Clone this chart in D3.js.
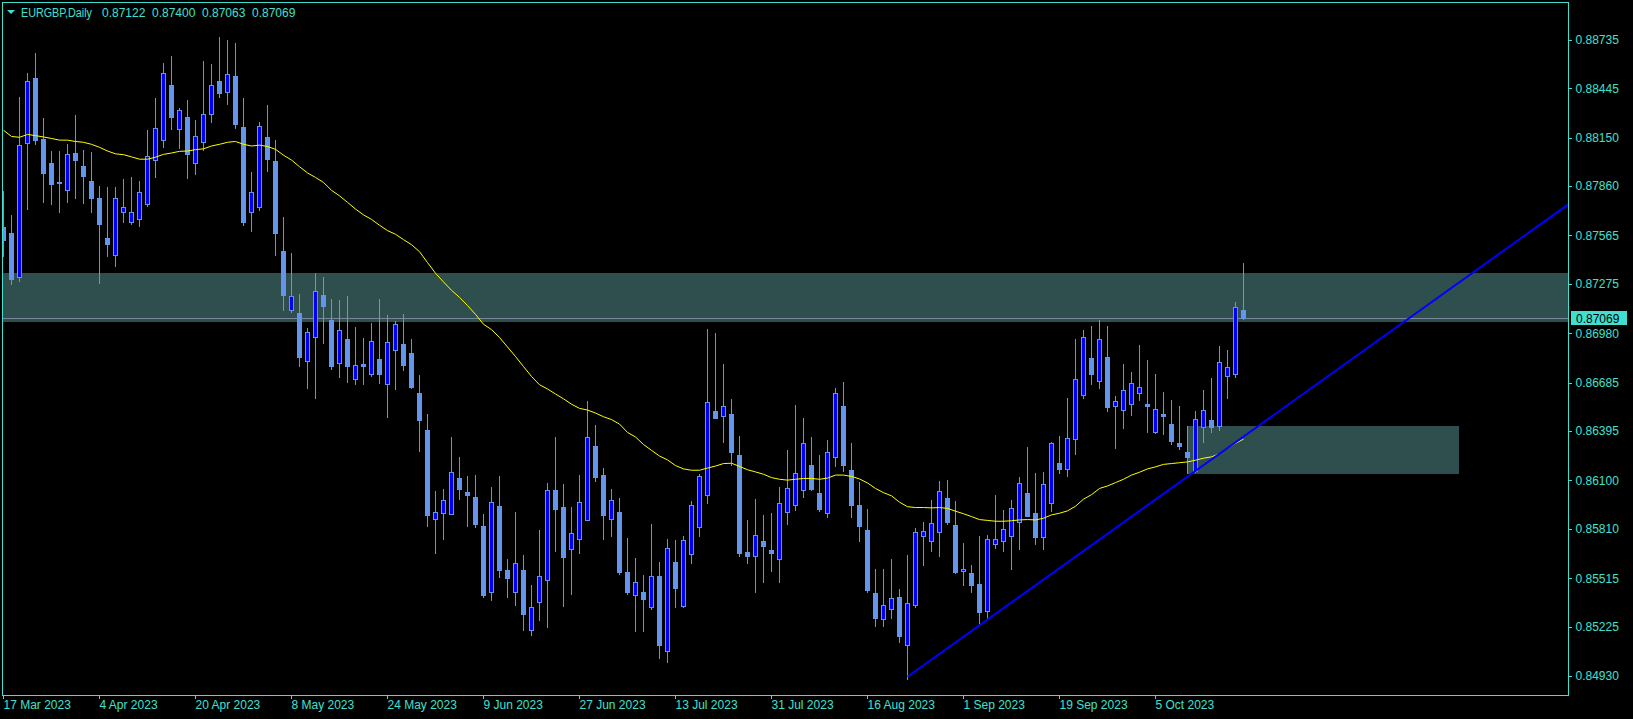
<!DOCTYPE html>
<html><head><meta charset="utf-8">
<script src="https://cdn.jsdelivr.net/npm/d3@7"></script>
<style>html,body{margin:0;padding:0;background:#000;overflow:hidden}svg{display:block}</style>
</head><body>
<svg id="chart" width="1633" height="719"></svg>
<script>
// ---- data (daily bars, index 0 = 17 Mar 2023) ----
const openP = [0.87617,0.87579,0.87314,0.88117,0.88506,0.88142,0.87998,0.87884,0.87835,0.88058,
0.87981,0.87892,0.87790,0.87550,0.87450,0.87708,0.87646,0.87666,0.87755,0.88018,
0.88137,0.88464,0.88204,0.88273,0.88001,0.88125,0.88293,0.88489,0.88420,0.88519,
0.88214,0.87708,0.87736,0.88154,0.88011,0.87473,0.87121,0.87101,0.86816,0.86955,
0.87210,0.87059,0.86803,0.86947,0.86709,0.86796,0.86736,0.86826,0.86677,0.86883,
0.86917,0.86863,0.86622,0.86402,0.85871,0.85904,0.85901,0.86114,0.86032,0.86000,
0.85827,0.85430,0.85948,0.85564,0.85430,0.85564,0.85204,0.85371,0.85507,0.86042,
0.85941,0.85693,0.85747,0.85866,0.86305,0.86134,0.85871,0.85911,0.85554,0.85415,
0.85433,0.85341,0.85527,0.85083,0.85613,0.85351,0.85663,0.85824,0.86010,0.86516,
0.86484,0.86498,0.86253,0.85673,0.85646,0.85737,0.85685,0.85633,0.85913,0.85953,
0.86045,0.86191,0.86025,0.85908,0.86241,0.86546,0.86161,0.85953,0.85804,0.85428,
0.85269,0.85333,0.85403,0.85113,0.85356,0.85765,0.85735,0.85790,0.85993,0.85834,
0.85556,0.85544,0.85482,0.85321,0.85718,0.85735,0.85765,0.85854,0.86025,0.85906,
0.85760,0.85968,0.86203,0.86171,0.86345,0.86608,0.86833,0.86692,0.86838,0.86543,
0.86523,0.86560,0.86620,0.86558,0.86387,0.86498,0.86439,0.86325,0.86270,0.86154,
0.86419,0.86459,0.86427,0.86727,0.86739,0.87122];
const highP = [0.87832,0.87688,0.88392,0.88536,0.88658,0.88268,0.88070,0.88070,0.88112,0.88286,
0.88078,0.88065,0.87862,0.87855,0.87855,0.87904,0.87914,0.87892,0.88197,0.88387,
0.88596,0.88638,0.88330,0.88375,0.88256,0.88608,0.88591,0.88752,0.88735,0.88717,
0.88387,0.87944,0.88244,0.88345,0.88137,0.87676,0.87460,0.87215,0.87009,0.87341,
0.87317,0.87185,0.87180,0.87203,0.87019,0.86952,0.87041,0.87185,0.87088,0.87051,
0.87096,0.86947,0.86732,0.86498,0.86037,0.86050,0.86360,0.86241,0.86127,0.86134,
0.85899,0.86060,0.86127,0.85631,0.85911,0.85656,0.85475,0.85804,0.86085,0.86360,
0.86080,0.85941,0.86134,0.86575,0.86432,0.86174,0.86050,0.85995,0.85757,0.85636,
0.85534,0.85839,0.85613,0.85750,0.85745,0.85767,0.85978,0.86139,0.87007,0.86982,
0.86796,0.86588,0.86367,0.85864,0.85990,0.85894,0.85906,0.86062,0.86283,0.86551,
0.86474,0.86360,0.86253,0.86342,0.86652,0.86689,0.86325,0.86092,0.85931,0.85571,
0.85571,0.85631,0.85452,0.85656,0.85814,0.85851,0.85983,0.86097,0.86102,0.85978,
0.85725,0.85594,0.85765,0.85772,0.86013,0.85923,0.85983,0.86122,0.86300,0.86144,
0.86151,0.86330,0.86367,0.86593,0.86947,0.86999,0.87024,0.87059,0.87024,0.86605,
0.86796,0.86749,0.86910,0.86821,0.86736,0.86630,0.86580,0.86546,0.86427,0.86516,
0.86642,0.86714,0.86905,0.86880,0.87170,0.87400];
const lowP = [0.87443,0.87277,0.87294,0.87721,0.88112,0.87765,0.87753,0.87703,0.87765,0.87790,
0.87760,0.87706,0.87282,0.87443,0.87383,0.87646,0.87634,0.87621,0.87740,0.87914,
0.88092,0.88202,0.88088,0.87909,0.87934,0.88078,0.88244,0.88390,0.88350,0.88209,
0.87629,0.87592,0.87718,0.87951,0.87448,0.87121,0.87108,0.86784,0.86652,0.86593,
0.86922,0.86766,0.86719,0.86689,0.86677,0.86677,0.86724,0.86682,0.86479,0.86647,
0.86761,0.86655,0.86275,0.85827,0.85666,0.85750,0.85899,0.85990,0.85827,0.85824,
0.85403,0.85385,0.85522,0.85403,0.85356,0.85207,0.85177,0.85266,0.85224,0.85678,
0.85351,0.85420,0.85666,0.85866,0.86097,0.85750,0.85765,0.85539,0.85418,0.85197,
0.85197,0.85333,0.85036,0.85016,0.85341,0.85346,0.85609,0.85765,0.85968,0.86471,
0.86332,0.86191,0.85646,0.85604,0.85435,0.85490,0.85556,0.85495,0.85837,0.85921,
0.86003,0.86042,0.85918,0.85879,0.86189,0.86154,0.85884,0.85735,0.85433,0.85227,
0.85232,0.85279,0.85133,0.84914,0.85341,0.85596,0.85680,0.85646,0.85837,0.85547,
0.85472,0.85430,0.85237,0.85276,0.85698,0.85678,0.85571,0.85690,0.85889,0.85720,
0.85688,0.85918,0.86146,0.86127,0.86258,0.86595,0.86679,0.86655,0.86516,0.86295,
0.86414,0.86491,0.86580,0.86389,0.86384,0.86377,0.86315,0.86288,0.86144,0.86151,
0.86330,0.86389,0.86399,0.86593,0.86717,0.87063];
const closeP = [0.87537,0.87307,0.88105,0.88489,0.88137,0.87939,0.87874,0.87877,0.88053,0.88016,
0.87921,0.87790,0.87636,0.87515,0.87790,0.87733,0.87706,0.87825,0.88040,0.88209,
0.88536,0.88273,0.88316,0.88053,0.88159,0.88291,0.88464,0.88415,0.88531,0.88231,
0.87646,0.87825,0.88219,0.88023,0.87579,0.87210,0.87203,0.86838,0.86987,0.87232,
0.87143,0.86784,0.86999,0.86784,0.86791,0.86786,0.86935,0.86736,0.86927,0.87036,
0.86791,0.86660,0.86464,0.85894,0.85911,0.85983,0.86149,0.86050,0.86010,0.85839,
0.85415,0.85970,0.85564,0.85517,0.85606,0.85299,0.85343,0.85527,0.86042,0.85931,
0.85643,0.85785,0.85970,0.86360,0.86122,0.85894,0.85983,0.85554,0.85430,0.85492,
0.85393,0.85527,0.85118,0.85695,0.85455,0.85742,0.85951,0.86127,0.86568,0.86476,
0.86548,0.86268,0.85668,0.85651,0.85772,0.85710,0.85668,0.85966,0.86052,0.86144,
0.86322,0.86050,0.85931,0.86273,0.86620,0.86194,0.85956,0.85829,0.85445,0.85279,
0.85353,0.85395,0.85170,0.85366,0.85790,0.85799,0.85844,0.86035,0.85851,0.85554,
0.85569,0.85477,0.85316,0.85747,0.85752,0.85807,0.85936,0.86085,0.85889,0.85760,
0.86080,0.86325,0.86171,0.86352,0.86707,0.86957,0.86734,0.86947,0.86541,0.86575,
0.86640,0.86682,0.86657,0.86543,0.86528,0.86486,0.86337,0.86305,0.86238,0.86469,
0.86523,0.86419,0.86808,0.86779,0.87138,0.87069];
// yellow moving average, read per bar
const maLine = [0.88194,0.88157,0.88152,0.88169,0.88162,0.88154,0.88145,0.88135,0.88135,0.88127,
0.88122,0.88110,0.88092,0.88070,0.88053,0.88048,0.88035,0.88021,0.88021,0.88033,
0.88050,0.88058,0.88068,0.88070,0.88078,0.88083,0.88100,0.88110,0.88122,0.88127,
0.88110,0.88100,0.88105,0.88097,0.88080,0.88045,0.88016,0.87976,0.87939,0.87912,
0.87882,0.87835,0.87802,0.87763,0.87723,0.87688,0.87661,0.87626,0.87594,0.87572,
0.87540,0.87510,0.87468,0.87403,0.87339,0.87287,0.87237,0.87195,0.87146,0.87093,
0.87034,0.87002,0.86955,0.86898,0.86841,0.86781,0.86722,0.86672,0.86647,0.86617,
0.86588,0.86556,0.86531,0.86521,0.86503,0.86481,0.86464,0.86437,0.86387,0.86360,
0.86315,0.86280,0.86246,0.86223,0.86189,0.86169,0.86161,0.86161,0.86174,0.86186,
0.86201,0.86203,0.86184,0.86164,0.86151,0.86137,0.86117,0.86107,0.86102,0.86107,
0.86112,0.86112,0.86107,0.86114,0.86132,0.86132,0.86124,0.86109,0.86085,0.86052,
0.86027,0.86008,0.85970,0.85943,0.85938,0.85938,0.85936,0.85938,0.85933,0.85916,
0.85901,0.85884,0.85866,0.85861,0.85856,0.85856,0.85859,0.85864,0.85866,0.85864,
0.85874,0.85894,0.85904,0.85918,0.85946,0.85988,0.86015,0.86052,0.86067,0.86087,
0.86107,0.86132,0.86149,0.86169,0.86181,0.86196,0.86201,0.86206,0.86211,0.86221,
0.86233,0.86241,0.86260,0.86293,0.86322,0.86347];

const priceTicks = [0.88735,0.88445,0.88150,0.87860,0.87565,0.87275,0.86980,0.86685,0.86395,0.86100,0.85810,0.85515,0.85225,0.84930];
const dateTickIdx = [0,12,24,36,48,60,72,84,96,108,120,132,144];
const dateLabels = ["17 Mar 2023","4 Apr 2023","20 Apr 2023","8 May 2023","24 May 2023","9 Jun 2023","27 Jun 2023","13 Jul 2023","31 Jul 2023","16 Aug 2023","1 Sep 2023","19 Sep 2023","5 Oct 2023"];
const symbolTitle = "EURGBP,Daily";
const lastQuote = [0.87122,0.87400,0.87063,0.87069];
const bidPrice = 0.87069;
const upperZone = {from:-20, to:260, top:0.87340, bottom:0.87050};
const lowerZone = {from:148, to:182, top:0.86425, bottom:0.86140};
const trendPts = [{i:113, p:0.84926},{i:148, p:0.86122}];

// ---- styling ----
const FG = "#40E0D0", BAR = "#6495ED", BULL = "#0000FF", MA_COL = "#FFFF00",
      ZONE = "#2F4F4F", BIDLINE = "#778899", TREND = "#0000FF";
const L = 2, T = 2, R = 1569, B = 696;

const svg = d3.select("#chart");
svg.append("rect").attr("width",1633).attr("height",719).attr("fill","#000");

const x = d3.scaleLinear().domain([0,1]).range([3,11]);
const y = d3.scaleLinear().domain([0.84930,0.88735]).range([676.1,39.8]);

svg.append("clipPath").attr("id","plotclip").append("rect")
  .attr("x",L+1).attr("y",T+1).attr("width",R-L-1).attr("height",B-T-1);
const plot = svg.append("g").attr("clip-path","url(#plotclip)");

// zones
[upperZone, lowerZone].forEach(z=>{
  plot.append("rect")
    .attr("x", x(z.from)).attr("width", x(z.to)-x(z.from))
    .attr("y", Math.round(y(z.top))).attr("height", Math.round(y(z.bottom))-Math.round(y(z.top)))
    .attr("fill", ZONE);
});

// bid line
plot.append("line").attr("x1",L).attr("x2",R)
  .attr("y1",Math.round(y(bidPrice))+0.5).attr("y2",Math.round(y(bidPrice))+0.5)
  .attr("stroke",BIDLINE).attr("stroke-width",1);

// candles
const bars = d3.range(openP.length).map(i=>({i,o:openP[i],h:highP[i],l:lowP[i],c:closeP[i]}));
const cg = plot.append("g").attr("shape-rendering","crispEdges");
const cs = cg.selectAll("g.c").data(bars).join("g");
cs.append("line")
  .attr("x1",d=>x(d.i)+0.5).attr("x2",d=>x(d.i)+0.5)
  .attr("y1",d=>Math.round(y(d.h))).attr("y2",d=>Math.round(y(d.l))+1)
  .attr("stroke",BAR).attr("stroke-width",1);
cs.each(function(d){
  const g = d3.select(this);
  const yt = Math.round(y(Math.max(d.o,d.c))), yb = Math.round(y(Math.min(d.o,d.c)));
  if (d.c > d.o) {
    g.append("rect").attr("x",x(d.i)-1.5).attr("y",yt+0.5)
      .attr("width",4).attr("height",Math.max(yb-yt,1))
      .attr("fill",BULL).attr("stroke",BAR).attr("stroke-width",1);
  } else {
    g.append("rect").attr("x",x(d.i)-2).attr("y",yt)
      .attr("width",5).attr("height",Math.max(yb-yt+1,1))
      .attr("fill",BAR);
  }
});

// moving average
plot.append("path").datum(maLine)
  .attr("d", d3.line().x((d,i)=>x(i)+0.5).y(d=>y(d)))
  .attr("fill","none").attr("stroke",MA_COL).attr("stroke-width",1);

// trend line (ray to the right edge)
const slope = (trendPts[1].p - trendPts[0].p)/(trendPts[1].i - trendPts[0].i);
const iEnd = x.invert(R);
plot.append("line")
  .attr("x1",x(trendPts[0].i)+0.5).attr("y1",y(trendPts[0].p))
  .attr("x2",x(iEnd)).attr("y2",y(trendPts[0].p + slope*(iEnd-trendPts[0].i)))
  .attr("stroke",TREND).attr("stroke-width",2);

// frame
svg.append("rect").attr("x",L+0.5).attr("y",T+0.5).attr("width",R-L-1).attr("height",B-T-1)
  .attr("fill","none").attr("stroke",FG).attr("stroke-width",1);

const font = "'Liberation Sans', Arial, sans-serif";

// price axis
const ya = svg.append("g").attr("transform",`translate(${R-0.5},0)`)
  .call(d3.axisRight(y).tickValues(priceTicks).tickFormat(d3.format(".5f")).tickSize(3).tickPadding(4));
ya.select(".domain").remove();
ya.selectAll("line").attr("stroke",FG).attr("shape-rendering","crispEdges");
ya.selectAll("text").attr("fill",FG).attr("font-family",font).attr("font-size",12);

// bid label
const by = y(bidPrice);
svg.append("rect").attr("x",R+2).attr("y",Math.round(by)-7).attr("width",56).attr("height",14).attr("fill",FG);
svg.append("text").attr("x",R+7).attr("y",by).attr("dy","0.35em")
  .attr("font-family",font).attr("font-size",12).attr("fill","#000").text(d3.format(".5f")(bidPrice));

// time axis
const xa = svg.append("g").attr("transform",`translate(0,${B-0.5})`)
  .call(d3.axisBottom(x).tickValues(dateTickIdx).tickFormat((d,k)=>dateLabels[k]).tickSize(3).tickPadding(2));
xa.select(".domain").remove();
xa.selectAll(".tick").attr("transform",d=>`translate(${x(d)+0.5},0)`);
xa.selectAll("line").attr("stroke",FG).attr("shape-rendering","crispEdges");
xa.selectAll("text").attr("fill",FG).attr("font-family",font).attr("font-size",12)
  .attr("text-anchor","start").attr("x",0);

// title
svg.append("path").attr("d","M7,10L15,10L11,14Z").attr("fill",FG);
const tg = svg.append("g").attr("font-family",font).attr("font-size",12).attr("fill",FG);
tg.append("text").attr("x",21).attr("y",17).attr("textLength",71).attr("lengthAdjust","spacingAndGlyphs").text(symbolTitle);
tg.selectAll("text.q").data(lastQuote).join("text").attr("class","q")
  .attr("x",(d,k)=>102+k*50).attr("y",17).text(d=>d3.format(".5f")(d));
</script>
</body></html>
